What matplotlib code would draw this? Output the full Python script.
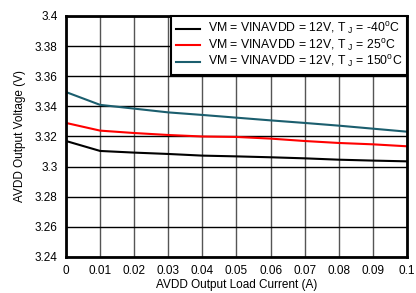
import numpy as np
import matplotlib.pyplot as plt

plt.rcParams['font.family'] = ['Liberation Sans', 'DejaVu Sans']
plt.rcParams['mathtext.fontset'] = 'custom'
plt.rcParams['mathtext.rm'] = 'Liberation Sans'

load = [0, 0.01, 0.02, 0.03, 0.04, 0.05, 0.06, 0.07, 0.08, 0.09, 0.1]
v_m40 = [3.317, 3.3104, 3.3093, 3.3084, 3.3073, 3.3068, 3.3062, 3.3055, 3.3046, 3.304, 3.3035]
v_25 = [3.329, 3.3239, 3.3223, 3.321, 3.320, 3.3197, 3.3186, 3.317, 3.3157, 3.3148, 3.3135]
v_150 = [3.3495, 3.341, 3.3385, 3.336, 3.3343, 3.3325, 3.3307, 3.329, 3.3272, 3.3252, 3.3232]
labels = [r"VM = VINAVDD = 12V, T$_{\rm\ J}$ = -40$^{\rm o}$C",
          r"VM = VINAVDD = 12V, T$_{\rm\ J}$ = 25$^{\rm o}$C",
          r"VM = VINAVDD = 12V, T$_{\rm\ J}$ = 150$^{\rm o}$C"]

fig = plt.figure(figsize=(4.16, 2.93), dpi=100)
ax = fig.add_axes([0.1587, 0.1229, 0.8195, 0.8225])

ax.plot(load, v_m40, color='black', lw=1.5, label=labels[0])
ax.plot(load, v_25, color='#ff0000', lw=1.5, label=labels[1])
ax.plot(load, v_150, color='#1b5e6e', lw=1.5, label=labels[2])

ax.set_xlim(0, 0.1)
ax.set_ylim(3.24, 3.4)
ax.set_xticks(np.arange(0, 0.1001, 0.01))
ax.set_xticklabels(['0'] + ['%.2f' % v for v in np.arange(0.01, 0.0951, 0.01)] + ['0.1'])
ax.set_yticks(np.arange(3.24, 3.4001, 0.02))
ax.set_yticklabels(['3.24', '3.26', '3.28', '3.3', '3.32', '3.34', '3.36', '3.38', '3.4'])
ax.tick_params(length=0, labelsize=8.5, pad=6)
ax.xaxis.grid(True, color='#555555', lw=1)
ax.yaxis.grid(True, color='black', lw=1)
ax.set_axisbelow(True)
for s in ax.spines.values():
    s.set_linewidth(2)

ax.set_xlabel('AVDD Output Load Current (A)', fontsize=8.5, labelpad=1)
ax.set_ylabel('AVDD Output Voltage (V)', fontsize=8.5, labelpad=6)

leg = ax.legend(loc='upper right', fontsize=8.8, frameon=True, fancybox=False,
                borderaxespad=0, handlelength=2.0, labelspacing=0.05,
                borderpad=0.4, handletextpad=0.6)
leg.get_frame().set_edgecolor('black')
leg.get_frame().set_linewidth(1.5)
leg.get_frame().set_alpha(1)

fig.savefig('out.png', dpi=100)
